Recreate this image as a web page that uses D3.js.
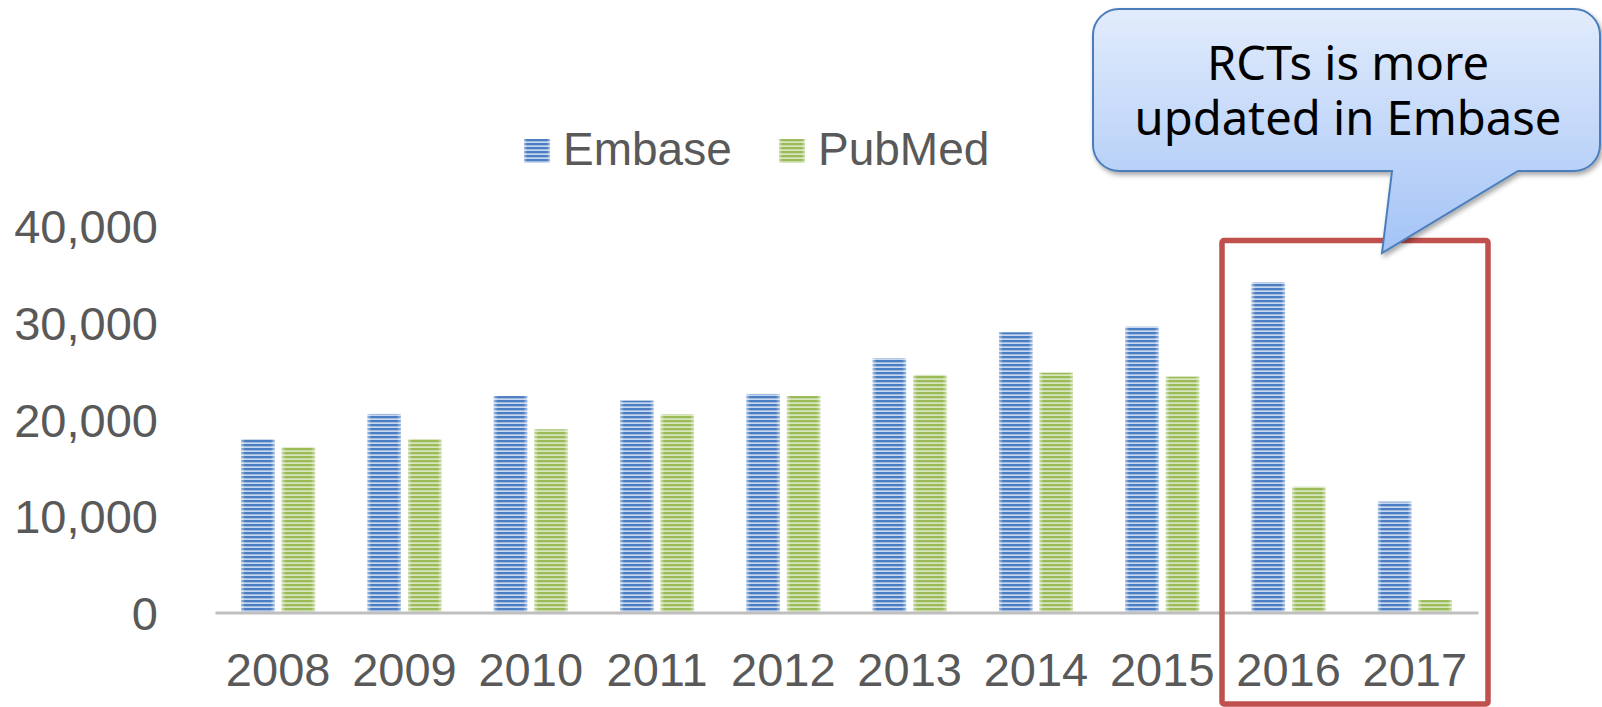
<!DOCTYPE html>
<html>
<head>
<meta charset="utf-8">
<script src="https://cdn.jsdelivr.net/npm/d3@7"></script>
<style>
  body { margin: 0; background: #fff; }
  svg { display: block; }
</style>
</head>
<body>
<svg id="chart" width="1602" height="707"></svg>
<script>
// data
var years = ["2008", "2009", "2010", "2011", "2012", "2013", "2014", "2015", "2016", "2017"];
var series = ["Embase", "PubMed"];
var embase = [17950, 20550, 22400, 21930, 22620, 26320, 29000, 29590, 34180, 11470];
var pubmed = [17100, 17960, 18960, 20520, 22410, 24590, 24820, 24410, 13020, 1290];
var yTicks = [0, 10000, 20000, 30000, 40000];
var calloutLines = ["RCTs is more", "updated in Embase"];

var data = years.map(function(y, i) {
  return {year: y, Embase: embase[i], PubMed: pubmed[i]};
});

var svg = d3.select("#chart");
var textColor = "#595959";
var colors = {
  Embase: {dark: "#4a7dc2", light: "#c7d7ee"},
  PubMed: {dark: "#9bbb59", light: "#d8e6bf"}
};

var x = d3.scaleBand().domain(years).range([215, 1478]).padding(0);
var x1 = d3.scaleBand().domain(series).range([0, x.bandwidth()])
  .paddingInner(0.173).paddingOuter(0.646);
var y = d3.scaleLinear().domain([0, 40000]).range([612.5, 226]);

var defs = svg.append("defs");

// striped fills
series.forEach(function(s) {
  var p = defs.append("pattern")
    .attr("id", "stripe-" + s)
    .attr("patternUnits", "userSpaceOnUse")
    .attr("width", 8).attr("height", 4);
  p.append("rect").attr("width", 8).attr("height", 4).attr("fill", colors[s].light);
  p.append("rect").attr("width", 8).attr("height", 2.3).attr("fill", colors[s].dark);
});

// soft edge highlight on bars
var edge = defs.append("linearGradient").attr("id", "edge")
  .attr("x1", "0").attr("x2", "1").attr("y1", "0").attr("y2", "0");
edge.append("stop").attr("offset", "0").attr("stop-color", "#fff").attr("stop-opacity", 0.5);
edge.append("stop").attr("offset", "0.12").attr("stop-color", "#fff").attr("stop-opacity", 0);
edge.append("stop").attr("offset", "0.88").attr("stop-color", "#fff").attr("stop-opacity", 0);
edge.append("stop").attr("offset", "1").attr("stop-color", "#fff").attr("stop-opacity", 0.5);

var cg = defs.append("linearGradient").attr("id", "calloutGrad")
  .attr("gradientUnits", "userSpaceOnUse")
  .attr("x1", 0).attr("x2", 0).attr("y1", 9).attr("y2", 255);
cg.append("stop").attr("offset", "0").attr("stop-color", "#e2ecfc");
cg.append("stop").attr("offset", "1").attr("stop-color", "#a3c3f6");

var sh = defs.append("filter").attr("id", "shadow")
  .attr("x", "-10%").attr("y", "-10%").attr("width", "125%").attr("height", "130%");
sh.append("feDropShadow").attr("dx", 2).attr("dy", 3).attr("stdDeviation", 2.5)
  .attr("flood-color", "#000").attr("flood-opacity", 0.35);

// y axis labels
svg.append("g")
  .attr("transform", "translate(158,0)")
  .call(d3.axisLeft(y).tickValues(yTicks).tickSize(0).tickPadding(0).tickFormat(d3.format(",")))
  .call(function(g) { g.select(".domain").remove(); })
  .selectAll("text")
  .attr("fill", textColor)
  .attr("font-family", "Liberation Sans, Arial, sans-serif")
  .attr("font-size", 47)
  .attr("dy", "0.36em");

// bars
var groups = svg.append("g").selectAll("g")
  .data(data)
  .join("g")
  .attr("transform", function(d) { return "translate(" + x(d.year) + ",0)"; });

var bars = groups.selectAll("g")
  .data(function(d) { return series.map(function(s) { return {key: s, value: d[s]}; }); })
  .join("g");

bars.append("rect")
  .attr("x", function(d) { return x1(d.key); })
  .attr("y", function(d) { return y(d.value); })
  .attr("width", x1.bandwidth())
  .attr("height", function(d) { return y(0) - y(d.value); })
  .attr("fill", function(d) { return "url(#stripe-" + d.key + ")"; });

bars.append("rect")
  .attr("x", function(d) { return x1(d.key); })
  .attr("y", function(d) { return y(d.value); })
  .attr("width", x1.bandwidth())
  .attr("height", function(d) { return y(0) - y(d.value); })
  .attr("fill", "url(#edge)");

// x axis
var xAxis = svg.append("g")
  .attr("transform", "translate(0," + y(0) + ")")
  .call(d3.axisBottom(x).tickSize(0).tickPadding(0));
xAxis.select(".domain").attr("stroke", "#bfbfbf").attr("stroke-width", 3);
xAxis.selectAll("text")
  .attr("fill", textColor)
  .attr("font-family", "Liberation Sans, Arial, sans-serif")
  .attr("font-size", 47)
  .attr("y", 73)
  .attr("dy", 0);

// legend
var legendX = {Embase: 524, PubMed: 779};
var legend = svg.append("g").selectAll("g")
  .data(series)
  .join("g")
  .attr("transform", function(s) { return "translate(" + legendX[s] + ",139)"; });
legend.append("rect")
  .attr("width", 26).attr("height", 24)
  .attr("fill", function(s) { return "url(#stripe-" + s + ")"; });
legend.append("rect")
  .attr("width", 26).attr("height", 24)
  .attr("fill", "url(#edge)");
legend.append("text")
  .attr("x", 39).attr("y", 26)
  .attr("fill", textColor)
  .attr("font-family", "Liberation Sans, Arial, sans-serif")
  .attr("font-size", 46)
  .text(function(s) { return s; });

// red highlight box around 2016-2017
svg.append("rect")
  .attr("x", 1222).attr("y", 240.5)
  .attr("width", 266).attr("height", 463.5)
  .attr("rx", 2)
  .attr("fill", "none")
  .attr("stroke", "#c0504d")
  .attr("stroke-width", 5.5);

// callout
var bx0 = 1093, bx1 = 1600, by0 = 9, by1 = 171, r = 26;
var callout = d3.path();
callout.moveTo(bx0 + r, by0);
callout.lineTo(bx1 - r, by0);
callout.arcTo(bx1, by0, bx1, by0 + r, r);
callout.lineTo(bx1, by1 - r);
callout.arcTo(bx1, by1, bx1 - r, by1, r);
callout.lineTo(1518, by1);
callout.lineTo(1382, 253);
callout.lineTo(1392, by1);
callout.lineTo(bx0 + r, by1);
callout.arcTo(bx0, by1, bx0, by1 - r, r);
callout.lineTo(bx0, by0 + r);
callout.arcTo(bx0, by0, bx0 + r, by0, r);
callout.closePath();

svg.append("path")
  .attr("d", callout.toString())
  .attr("fill", "url(#calloutGrad)")
  .attr("stroke", "#4a7ebb")
  .attr("stroke-width", 2)
  .attr("filter", "url(#shadow)");

// both lines in one text element
var ct = svg.append("text")
  .attr("text-anchor", "middle")
  .attr("fill", "#000")
  .attr("font-family", "Noto Sans, Open Sans, sans-serif")
  .attr("font-size", 48);
ct.selectAll("tspan")
  .data(calloutLines)
  .join("tspan")
  .attr("x", 1348)
  .attr("y", function(d, i) { return 80 + i * 55; })
  .text(function(d) { return d; });

// fit the callout text width to the original
var w = ct.selectAll("tspan").nodes()[1].getComputedTextLength();
ct.attr("font-size", 48 * 427 / w);
</script>
</body>
</html>
